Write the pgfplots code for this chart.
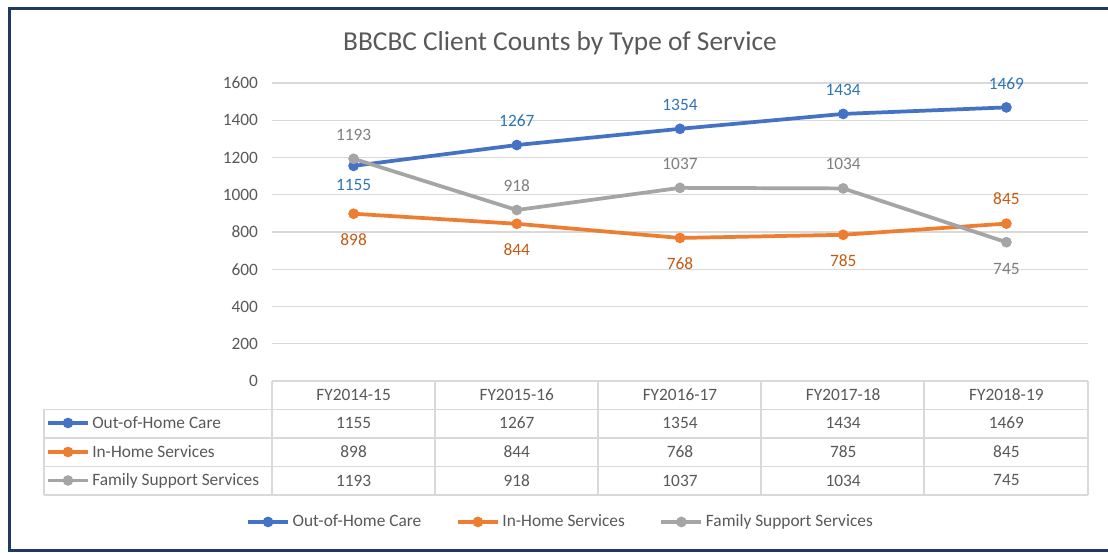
\documentclass[border=0pt]{standalone}
\usepackage{fontspec}
\setmainfont{Carlito}
\usepackage{pgfplots}
\usepackage{pgfplotstable}
\pgfplotsset{compat=1.18}

\definecolor{ooh}{HTML}{4472C4}
\definecolor{inh}{HTML}{ED7D31}
\definecolor{fss}{HTML}{A5A5A5}
\definecolor{oohlab}{HTML}{2E75B6}
\definecolor{inhlab}{HTML}{C55A11}
\definecolor{fsslab}{HTML}{7F7F7F}
\definecolor{txt}{HTML}{595959}
\definecolor{gridc}{HTML}{D9D9D9}
\definecolor{frame}{HTML}{1F3864}

\pgfplotstableread{
x ooh  inh fss
0 1155 898 1193
1 1267 844 918
2 1354 768 1037
3 1434 785 1034
4 1469 845 745
}\datatable

\begin{document}
\begin{tikzpicture}[x=0.75pt, y=0.75pt]
\path[use as bounding box] (0,0) rectangle (1108,553);
\fill[white] (0,0) rectangle (1108,553);
\draw[frame, line width=2.25pt] (1130,544.5) -- (9.5,544.5) -- (9.5,2) -- (1130,2);

\node[text=txt, font=\fontsize{20.5}{24}\selectfont] at (560,510) {BBCBC Client Counts by Type of Service};

% data table grid
\begin{scope}[gridc, line width=1pt]
  \draw (272,172) -- (1088,172);
  \foreach \yy in {143.5,115,86.5,58} \draw (44,\yy) -- (1088,\yy);
  \draw (44,143.5) -- (44,58);
  \foreach \xx in {272,435,598,761,924,1088} \draw (\xx,172) -- (\xx,58);
\end{scope}
\foreach \c/\yy/\lab in {ooh/130/Out-of-Home Care, inh/101/In-Home Services, fss/72.5/Family Support Services}{
  \draw[\c, line width=2.8pt] (48,\yy) -- (88,\yy);
  \fill[\c] (68,\yy) circle (4pt);
  \node[anchor=west, text=txt, inner sep=0pt, font=\fontsize{13}{15}\selectfont] at (92,\yy) {\lab};
}

\begin{axis}[
  at={(204pt,129pt)}, anchor=south west,
  width=612pt, height=223.5pt, scale only axis,
  xmin=-0.5, xmax=4.5, ymin=0, ymax=1600,
  clip=false,
  axis line style={draw=none},
  tick style={draw=none},
  major tick length=0pt,
  ytick={0,200,...,1600},
  ymajorgrids, grid style={gridc, line width=1pt},
  xtick={0,1,2,3,4},
  xticklabels={FY2014-15,FY2015-16,FY2016-17,FY2017-18,FY2018-19},
  xticklabel style={anchor=center, yshift=-10.5pt},
  yticklabel style={xshift=-7pt},
  tick label style={text=txt, font=\fontsize{13}{15}\selectfont},
  /pgf/number format/assume math mode=true,
  /pgf/number format/1000 sep={},
  nodes near coords style={font=\fontsize{13}{15}\selectfont, anchor=center},
  legend style={at={(0.354,-0.473)}, anchor=center, draw=none, fill=none,
    legend columns=3, text=txt, font=\fontsize{13}{15}\selectfont,
    /tikz/every even column/.append style={column sep=24pt}},
  legend image code/.code={\draw[mark repeat=2, mark phase=2, #1] plot coordinates {(0pt,0pt) (15pt,0pt) (30pt,0pt)};},
  series/.style={#1, line width=2.8pt, mark=*, mark size=3.6pt, mark options={solid, line width=0.8pt}},
  lab/.style={forget plot, draw=none, mark=none, nodes near coords, point meta=explicit symbolic},
]
\addplot[series=ooh] table[x=x, y=ooh] {\datatable};
\addplot[series=inh] table[x=x, y=inh] {\datatable};
\addplot[series=fss] table[x=x, y=fss] {\datatable};
\legend{Out-of-Home Care, In-Home Services, Family Support Services}

% data labels above / below the points
\addplot[lab, every node near coord/.append style={yshift=18pt, text=oohlab}]
  coordinates {(1,1267)[1267] (2,1354)[1354] (3,1434)[1434] (4,1469)[1469]};
\addplot[lab, every node near coord/.append style={yshift=-14.5pt, text=oohlab}]
  coordinates {(0,1155)[1155]};
\addplot[lab, every node near coord/.append style={yshift=-19.5pt, text=inhlab}]
  coordinates {(0,898)[898] (1,844)[844] (2,768)[768] (3,785)[785]};
\addplot[lab, every node near coord/.append style={yshift=18.5pt, text=inhlab}]
  coordinates {(4,845)[845]};
\addplot[lab, every node near coord/.append style={yshift=18pt, text=fsslab}]
  coordinates {(0,1193)[1193] (1,918)[918] (2,1037)[1037] (3,1034)[1034]};
\addplot[lab, every node near coord/.append style={yshift=-20pt, text=fsslab}]
  coordinates {(4,745)[745]};

% values of the data table
\addplot[lab, every node near coord/.append style={text=txt}]
  coordinates {(0,-225.5)[1155] (1,-225.5)[1267] (2,-225.5)[1354] (3,-225.5)[1434] (4,-225.5)[1469]};
\addplot[lab, every node near coord/.append style={text=txt}]
  coordinates {(0,-381.2)[898] (1,-381.2)[844] (2,-381.2)[768] (3,-381.2)[785] (4,-381.2)[845]};
\addplot[lab, every node near coord/.append style={text=txt}]
  coordinates {(0,-534.2)[1193] (1,-534.2)[918] (2,-534.2)[1037] (3,-534.2)[1034] (4,-534.2)[745]};
\end{axis}
\end{tikzpicture}
\end{document}
